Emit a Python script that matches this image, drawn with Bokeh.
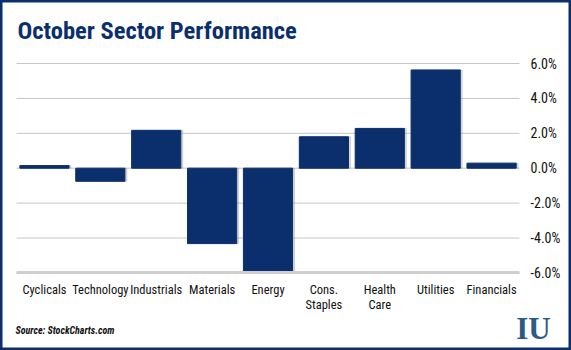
import numpy as np
from bokeh.plotting import figure
from bokeh.models import Range1d, PrintfTickFormatter, Label, FixedTicker
from bokeh.embed import file_html
from bokeh.resources import INLINE

categories = ["Cyclicals", "Technology", "Industrials", "Materials", "Energy",
              "Cons.\nStaples", "Health\nCare", "Utilities", "Financials"]
values = [0.15, -0.75, 2.17, -4.32, -6.0, 1.80, 2.28, 5.63, 0.29]
ticks = [-6, -4, -2, 0, 2, 4, 6]
title_text = "October Sector Performance"
source_text = "Source: StockCharts.com"

NAVY = "#0b2f6c"
FONT = "Roboto Condensed"
W, H = 571, 350

xs = list(range(len(categories)))
n = len(categories)
# pixel geometry of the plotting area
left_px, right_px = 16.0, 519.0
zero_px, six_px = 167.7, 63.0
ppx = (right_px - left_px) / n
ppy = (zero_px - six_px) / 6.0
x0 = -0.5 - left_px / ppx
y1 = zero_px / ppy

p = figure(width=W, height=H, output_backend="svg", toolbar_location=None,
           x_range=Range1d(x0, x0 + W / ppx),
           y_range=Range1d(y1 - H / ppy, y1), y_axis_location="right",
           min_border=0)
p.min_border_left = p.min_border_right = p.min_border_top = p.min_border_bottom = 0

# grid lines
p.segment(x0=-0.5, x1=n - 0.5, y0=ticks, y1=ticks, line_color="#c6c6c6",
          line_width=1)
# subtle shadow + bars
p.vbar(x=[x + 0.035 for x in xs], top=values, width=0.88, color="#9a9a9a",
       alpha=0.35)
p.vbar(x=xs, top=values, width=0.88, color=NAVY)

p.outline_line_color = NAVY
p.outline_line_width = 4
p.xgrid.grid_line_color = None
p.ygrid.grid_line_color = None

ya = p.yaxis[0]
ya.fixed_location = n - 0.5
ya.bounds = (min(ticks), max(ticks))
ya.ticker = FixedTicker(ticks=ticks)
ya.formatter = PrintfTickFormatter(format="%.1f%%")
ya.axis_line_color = None
ya.major_tick_line_color = None
ya.minor_tick_line_color = None
ya.major_label_text_font = FONT
ya.major_label_text_font_size = "14px"
ya.major_label_text_color = "#111111"
ya.major_label_standoff = 5

xa = p.xaxis[0]
xa.fixed_location = min(ticks)
xa.bounds = (-0.5, n - 0.5)
xa.ticker = FixedTicker(ticks=xs)
xa.major_label_overrides = {i: c for i, c in enumerate(categories)}
xa.axis_line_color = "#cfcfcf"
xa.axis_line_width = 3
xa.major_tick_line_color = None
xa.minor_tick_line_color = None
xa.major_label_text_font = FONT
xa.major_label_text_font_size = "12.5px"
xa.major_label_text_line_height = 1.0
xa.major_label_text_color = "#111111"
xa.major_label_standoff = 3

def dx(px):
    return x0 + px / ppx

def dy(py):
    return y1 - py / ppy

p.add_layout(Label(x=dx(17), y=dy(30), text=title_text, text_font=FONT,
                   text_font_size="24.5px", text_font_style="bold",
                   text_color=NAVY, text_baseline="alphabetic"))
p.add_layout(Label(x=dx(15), y=dy(330), text=source_text, text_font=FONT,
                   text_font_size="10px", text_font_style="bold italic",
                   text_color="#111111", text_baseline="alphabetic"))
p.add_layout(Label(x=dx(533), y=dy(328), text="IU", text_font="Liberation Serif",
                   text_font_size="31px", text_font_style="bold",
                   text_color="#2e5a86", text_align="center",
                   text_baseline="alphabetic"))

open("out.html", "w").write(file_html(p, INLINE))
